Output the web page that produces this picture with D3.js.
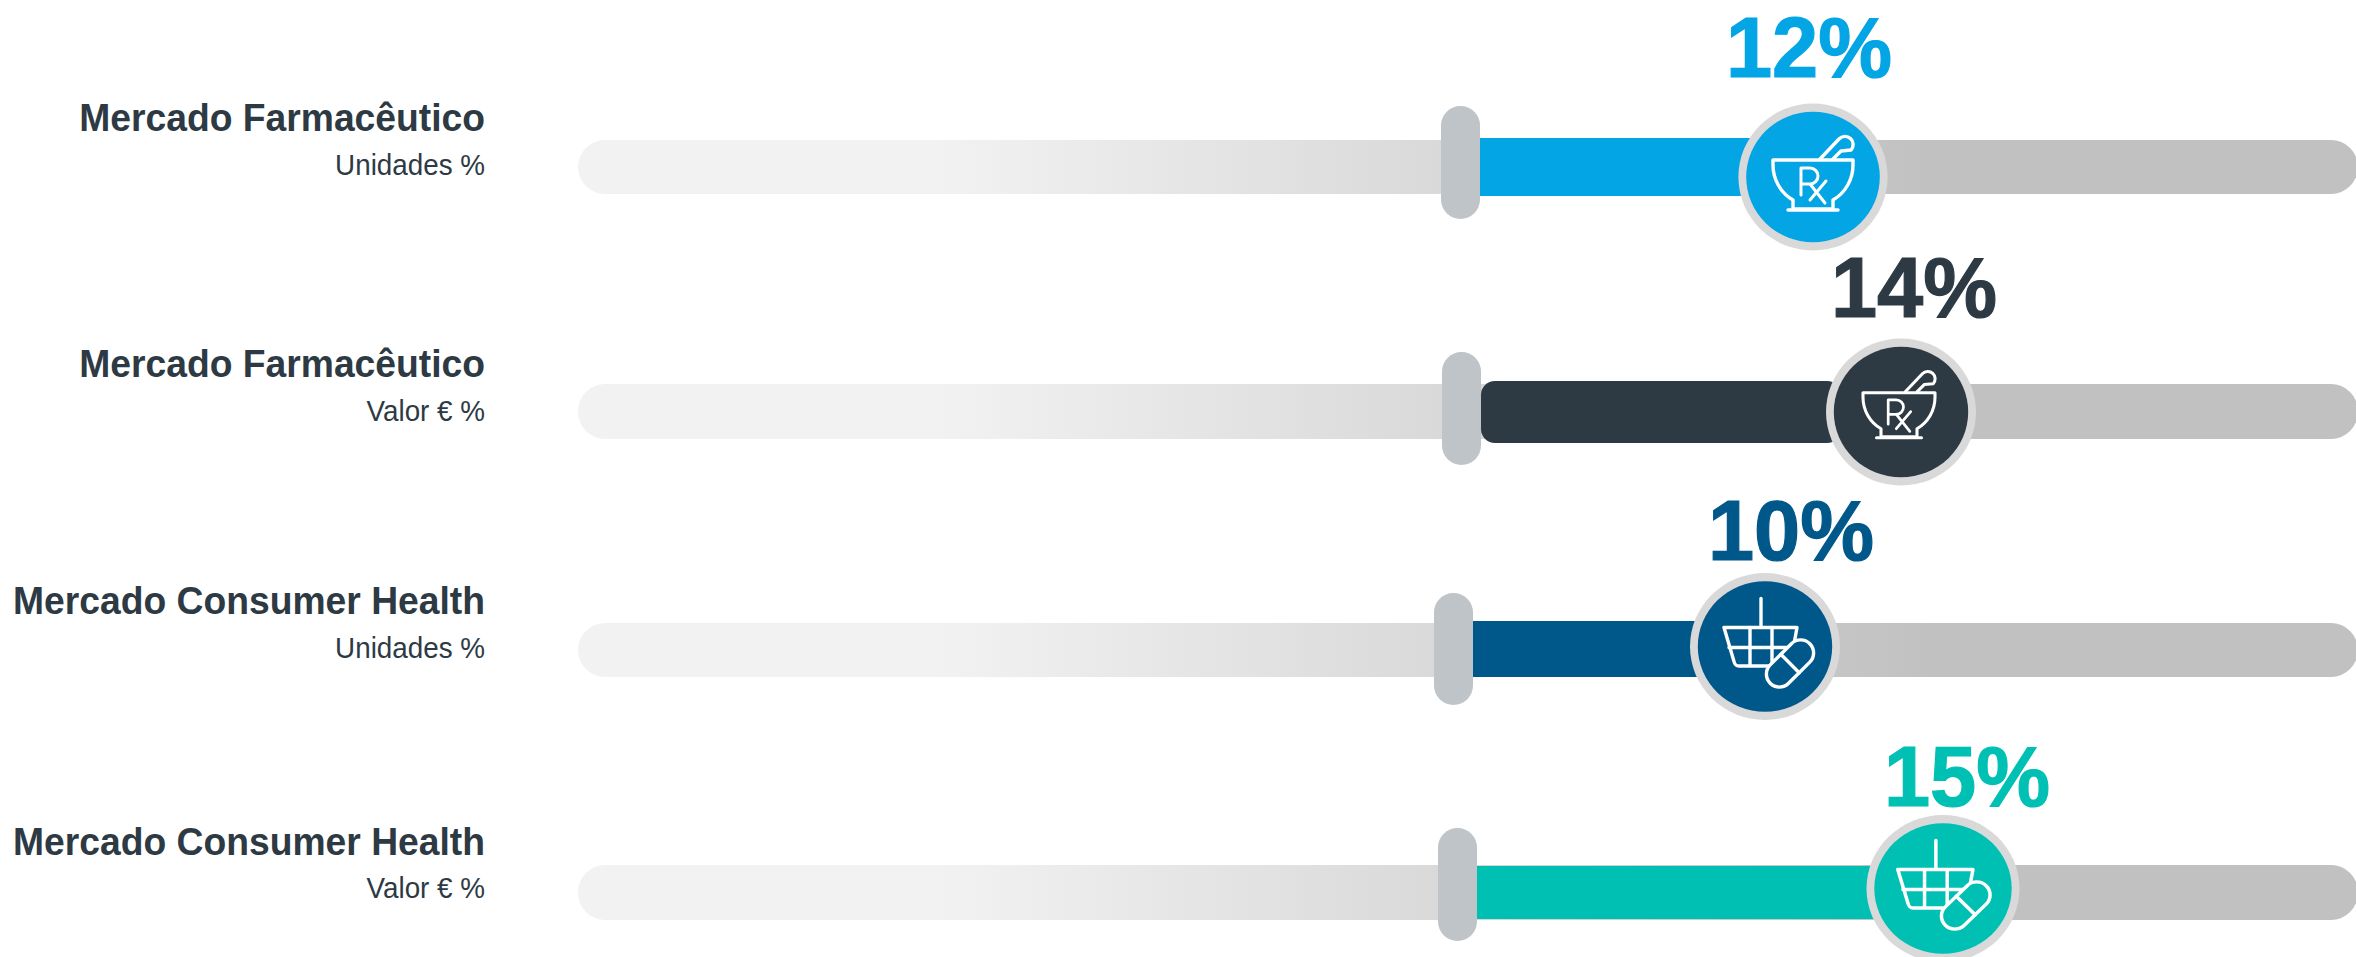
<!DOCTYPE html>
<html>
<head>
<meta charset="utf-8">
<script src="https://cdn.jsdelivr.net/npm/d3@7"></script>
<style>
html,body{margin:0;padding:0;background:#fff;overflow:hidden}
svg{display:block}
text{font-family:"Liberation Sans",Arial,sans-serif}
</style>
</head>
<body>
<div id="chart"></div>
<script>
// Data
const titles = ["Mercado Farmacêutico","Mercado Farmacêutico","Mercado Consumer Health","Mercado Consumer Health"];
const subtitles = ["Unidades %","Valor € %","Unidades %","Valor € %"];
const values = [12,14,10,15];
const valueLabels = ["12%","14%","10%","15%"];
const colors = ["#03A5E4","#2D3A44","#00588A","#00C0B4"];
const icons = ["mortar","mortar","basket","basket"];

const W = 2356, H = 957;
// The value axis of the source is not uniform, so it is read as a piecewise scale
const x = d3.scaleLinear().domain([10,12,14,15]).range([1765,1813,1901,1943]);
const rowIdx = d3.range(values.length);
const trackY = d3.scaleOrdinal(rowIdx,[[140,194],[384,439],[623,677],[865,920]]);
const barY = d3.scaleOrdinal(rowIdx,[[138,196],[381,443],[621,677],[866,919]]);
const handleY = d3.scaleOrdinal(rowIdx,[[106,219],[352,465],[593,705],[828,941]]);
const handleX = d3.scaleOrdinal(rowIdx,[1441,1442,1434,1438]);
const circleY = d3.scaleOrdinal(rowIdx,[177,412,646.5,888.5]);
const circleRx = d3.scaleOrdinal(rowIdx,[74.6,75,75,76.5]);
const titleY = d3.scaleOrdinal(rowIdx,[130.5,376.5,614,855]);
const subY = d3.scaleOrdinal(rowIdx,[175,420.5,658,898]);
const valueY = d3.scaleOrdinal(rowIdx,[76.5,317,560,806]);
const valueX = d3.scaleOrdinal(rowIdx,[1809,1914,1791,1967]);
const barInset = d3.scaleOrdinal(rowIdx,[0,60,0,0]);
const iconT = d3.scaleOrdinal(rowIdx,[
  "translate(0,0) scale(1,1)",
  "translate(-2,-4) scale(.9,.9)",
  "translate(0,0) scale(1,1)",
  "translate(-3,0) scale(1.03,1)"]);

const svg = d3.select("#chart").append("svg").attr("width",W).attr("height",H);
const grad = svg.append("defs").append("linearGradient").attr("id","track")
  .attr("gradientUnits","userSpaceOnUse").attr("x1",578).attr("x2",W).attr("y1",0).attr("y2",0);
grad.append("stop").attr("offset","0.2").attr("stop-color","#F2F2F2");
grad.append("stop").attr("offset","0.76").attr("stop-color","#C1C1C1");

const rows = svg.selectAll("g.row").data(rowIdx).join("g").attr("class","row");

// Tracks
rows.append("rect").attr("x",578).attr("width",W+2-578)
  .attr("y",i=>trackY(i)[0]).attr("height",i=>trackY(i)[1]-trackY(i)[0])
  .attr("rx",27).attr("fill","url(#track)");
// Start handles
rows.append("rect").attr("x",handleX).attr("width",39)
  .attr("y",i=>handleY(i)[0]).attr("height",i=>handleY(i)[1]-handleY(i)[0])
  .attr("rx",19.5).attr("fill","#BFC4C8");
// Bars start at the right edge of the handle
rows.append("rect").attr("x",i=>handleX(i)+39).attr("width",i=>x(values[i])-barInset(i)-handleX(i)-39)
  .attr("y",i=>barY(i)[0]).attr("height",i=>barY(i)[1]-barY(i)[0])
  .attr("rx",i=>i===1?14:0).attr("fill",i=>colors[i]);
// Markers
rows.append("ellipse").attr("cx",i=>x(values[i])).attr("cy",circleY)
  .attr("rx",circleRx).attr("ry",73.5).attr("fill","#D9D9D9");
rows.append("ellipse").attr("cx",i=>x(values[i])).attr("cy",circleY)
  .attr("rx",i=>circleRx(i)-7.8).attr("ry",65.3).attr("fill",i=>colors[i]);

// Icons
const ico = rows.append("g")
  .attr("transform",i=>`translate(${x(values[i])},${circleY(i)}) ${iconT(i)}`)
  .attr("fill","none").attr("stroke","#fff").attr("stroke-width",3.4)
  .attr("stroke-linecap","round").attr("stroke-linejoin","round");

ico.filter(i=>icons[i]==="mortar").each(function(){
  const g = d3.select(this);
  g.append("path").attr("d","M-40,-17 H40 V-12 C40,3 32,16 20,23 V32 H-20 V23 C-32,16 -40,3 -40,-12 Z");
  g.append("path").attr("d","M-25,33 H25");
  g.append("path").attr("d","M7,-18 L26,-38 A8,8 0 1 1 38,-27 L28,-26 L20,-18");
  g.append("path").attr("d","M-12,18 V-9 H-3 A8,8 0 0 1 -3,7 H-12 M-3,7 L12,26 M-3,23 L13,4").attr("stroke-width",3);
});
ico.filter(i=>icons[i]==="basket").each(function(i){
  const g = d3.select(this);
  g.append("path").attr("d","M-4,-48 V-20");
  g.append("path").attr("d","M-41,-19 H32 L25,19.5 H-26 Q-30,19.5 -31,15 Z");
  g.append("path").attr("d","M-15,-19 V19 M7,-19 V19 M-36,1 H27");
  const pill = g.append("g").attr("transform","translate(25,17) rotate(-45)");
  pill.append("rect").attr("x",-28).attr("y",-13).attr("width",56).attr("height",26).attr("rx",13).attr("fill",colors[i]);
  pill.append("path").attr("d","M0,-13 V13");
});

// Labels
const lab = (sel,fn,yfn,sy)=>sel.attr("transform",i=>`translate(${fn(i)},${yfn(i)}) scale(1,${sy})`);
lab(rows.append("text").text(i=>titles[i]).attr("text-anchor","end")
  .attr("font-size",37.25).attr("font-weight",700).attr("fill","#2D3A44"),()=>485,titleY,1.04);
lab(rows.append("text").text(i=>subtitles[i]).attr("text-anchor","end")
  .attr("font-size",27.8).attr("fill","#2D3A44"),()=>485,subY,1.04);
lab(rows.append("text").text(i=>valueLabels[i]).attr("text-anchor","middle")
  .attr("font-size",83).attr("font-weight",700).attr("fill",i=>colors[i])
  .attr("stroke",i=>colors[i]).attr("stroke-width",1.2),
  valueX,valueY,1.02);
</script>
</body>
</html>
